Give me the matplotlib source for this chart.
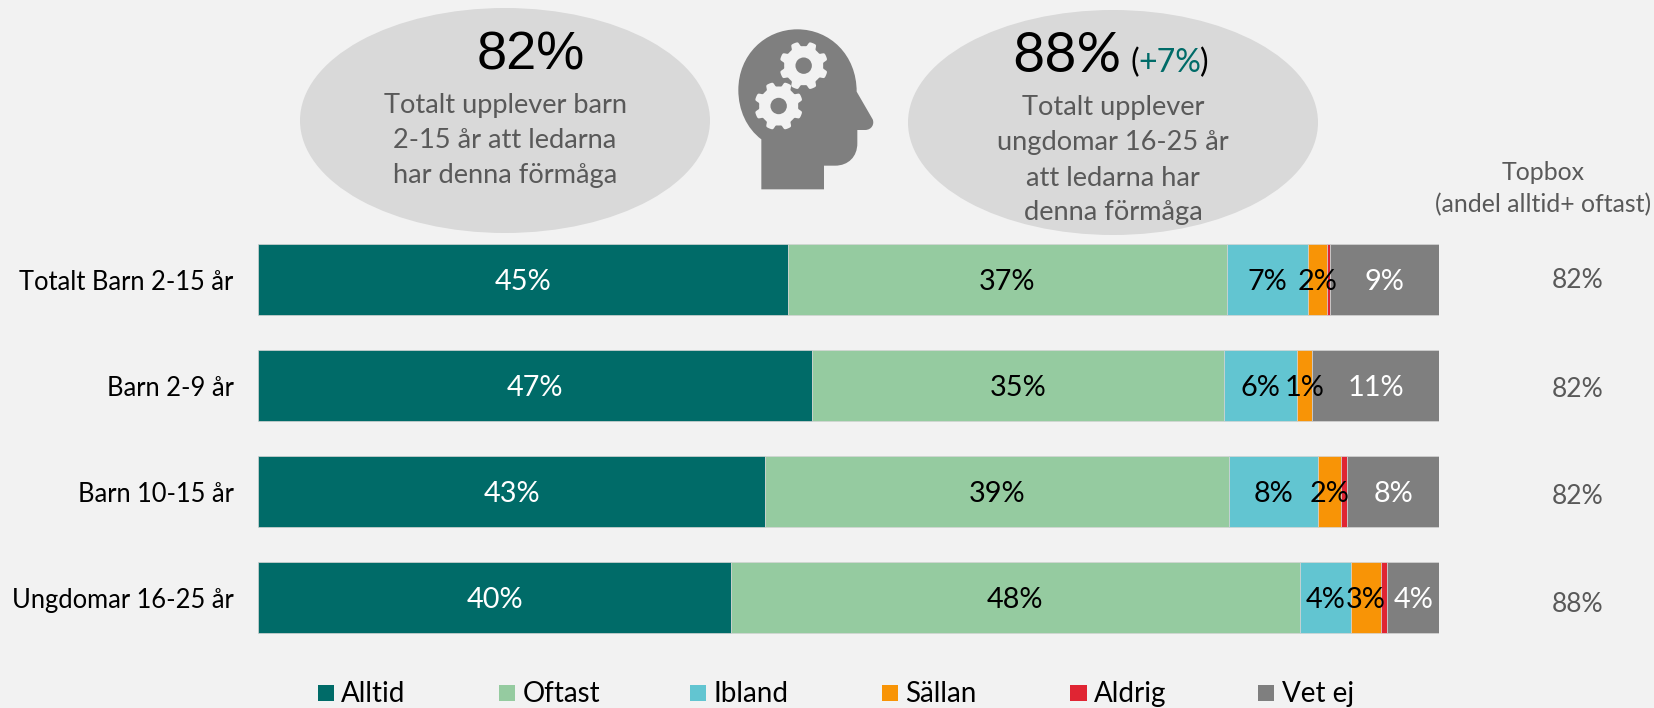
import numpy as np
import matplotlib
matplotlib.use("Agg")
import matplotlib.pyplot as plt
from matplotlib.patches import Ellipse, Rectangle, PathPatch, Circle, Polygon
from matplotlib.path import Path

plt.rcParams['font.family'] = ['Lato', 'DejaVu Sans']

W, H = 1654, 708
categories = ["Totalt Barn 2-15 år", "Barn 2-9 år", "Barn 10-15 år", "Ungdomar 16-25 år"]
series_names = ["Alltid", "Oftast", "Ibland", "Sällan", "Aldrig", "Vet ej"]
alltid = [44.85, 46.9, 42.9, 40.0]
oftast = [37.15, 34.9, 39.3, 48.2]
ibland = [6.85, 6.17, 7.55, 4.3]
sallan = [1.65, 1.27, 1.95, 2.55]
aldrig = [0.24, 0.0, 0.5, 0.55]
vet_ej = [9.26, 10.76, 7.8, 4.4]
topbox = ["82%", "82%", "82%", "88%"]

colors = ["#006b68", "#95cba0", "#62c5d1", "#f89406", "#e02533", "#7f7f7f"]
label_colors = ["white", "black", "black", "black", None, "white"]
BG = "#f2f2f2"
GREY_TXT = "#595959"
SHAPE = "#d9d9d9"
ICON = "#7f7f7f"

fig = plt.figure(figsize=(W / 100, H / 100), dpi=100, facecolor=BG)

# full-figure overlay in pixel coordinates for the decorative shapes
ov = fig.add_axes([0, 0, 1, 1], zorder=0)
ov.set_xlim(0, W)
ov.set_ylim(H, 0)
ov.axis("off")

# chart axes
left, right, top, bottom = 258.4, 1439.3, 226.7, 650.7
ax = fig.add_axes([left / W, 1 - bottom / H, (right - left) / W, (bottom - top) / H], zorder=1)
ax.patch.set_alpha(0)
ax.set_xlim(0, 100)
ax.set_ylim(3.5, -0.5)
for s in ax.spines.values():
    s.set_visible(False)
ax.set_xticks([])
ax.set_yticks(range(len(categories)))
ax.set_yticklabels(categories, fontsize=18.4, color="black")
ax.tick_params(axis="y", length=0, pad=18)

y = np.arange(len(categories))
cum = np.zeros(len(categories))
for name, vals, col, lc in zip(series_names, [alltid, oftast, ibland, sallan, aldrig, vet_ej], colors, label_colors):
    vals = np.array(vals)
    ax.barh(y, vals, left=cum, height=0.67, color=col, edgecolor="#d4d4d4", linewidth=0.5)
    if lc:
        for yi, v, c in zip(y, vals, cum):
            ax.text(c + v / 2, yi, f"{int(round(v))}%", ha="center", va="center_baseline",
                    color=lc, fontsize=20.8)
    cum += vals

for yi, t, dy in zip(y, topbox, [-0.02, 0.015, 0.02, 0.04]):
    ax.text(1.1168, yi + dy, t, transform=ax.get_yaxis_transform(), ha="center", va="center_baseline",
            color=GREY_TXT, fontsize=19)

# ellipses
ov.add_patch(Ellipse((505, 120.5), 410, 225, fc=SHAPE, ec="none"))
ov.add_patch(Ellipse((1113, 122.5), 410, 225, fc=SHAPE, ec="none"))

# big numbers
ov.text(530.7, 70, "82%", ha="center", va="baseline", fontsize=39, color="black", family="Liberation Sans")
ov.text(1012, 72, "88%", ha="left", va="baseline", fontsize=40, color="black")
ov.text(1130, 72, "(", ha="left", va="baseline", fontsize=23, color="black")
ov.text(1138, 72, "+7%", ha="left", va="baseline", fontsize=23, color="#006b68")
ov.text(1200, 72, ")", ha="left", va="baseline", fontsize=23, color="black")

for t, b in zip(["Totalt upplever barn", "2-15 år att ledarna", "har denna förmåga"], [113, 148, 183]):
    ov.text(505, b, t, ha="center", va="baseline", fontsize=19.6, color=GREY_TXT)
for t, b in zip(["Totalt upplever", "ungdomar 16-25 år", "att ledarna har", "denna förmåga"], [115, 150, 186, 220]):
    ov.text(1113, b, t, ha="center", va="baseline", fontsize=19.6, color=GREY_TXT)

ov.text(1543, 180, "Topbox", ha="center", va="baseline", fontsize=17.9, color=GREY_TXT)
ov.text(1543, 212, "(andel alltid+ oftast)", ha="center", va="baseline", fontsize=17.9, color=GREY_TXT)

# head icon (outline traced in zoom coordinates)
def hp(x, yy):
    return (680 + x / 3, yy / 3)

verts = [hp(244, 568), hp(244, 418),
         hp(200, 385), hp(175, 330), hp(175, 270),
         hp(175, 165), hp(255, 88), hp(352, 88),
         hp(450, 88), hp(530, 165), hp(530, 275),
         hp(578, 358),
         hp(584, 372), hp(575, 390), hp(555, 390),
         hp(532, 390), hp(532, 430),
         hp(532, 470), hp(505, 497), hp(465, 497),
         hp(432, 497), hp(432, 568), hp(244, 568)]
codes = [Path.MOVETO, Path.LINETO,
         Path.CURVE4, Path.CURVE4, Path.CURVE4,
         Path.CURVE4, Path.CURVE4, Path.CURVE4,
         Path.CURVE4, Path.CURVE4, Path.CURVE4,
         Path.LINETO,
         Path.CURVE4, Path.CURVE4, Path.CURVE4,
         Path.LINETO, Path.LINETO,
         Path.CURVE4, Path.CURVE4, Path.CURVE4,
         Path.LINETO, Path.LINETO, Path.CLOSEPOLY]
ov.add_patch(PathPatch(Path(verts, codes), fc=ICON, ec="none"))

def gear(cx, cy, rot):
    teeth = 8
    ang = np.linspace(0, 2 * np.pi, teeth * 24, endpoint=False)
    prof = 0.5 * (1 + np.tanh(3.2 * np.cos(teeth * (ang + rot))))
    r = 19.5 + 4.8 * prof
    ov.add_patch(Polygon(np.c_[cx + r * np.cos(ang), cy + r * np.sin(ang)], closed=True, fc=BG, ec="none"))
    ov.add_patch(Circle((cx, cy), 8.2, fc=ICON, ec="none"))

gear(*hp(371, 197), np.pi / 8)
gear(*hp(296, 318), np.pi / 8)

# legend
leg_x = [317.9, 499, 690, 882, 1070, 1258]
leg_w = [16, 16, 16, 16, 17, 16]
for name, col, lx, lw in zip(series_names, colors, leg_x, leg_w):
    ov.add_patch(Rectangle((lx, 685), lw, 16, fc=col, ec="none"))
    ov.text(lx + 23.5, 702, name, ha="left", va="baseline", fontsize=20, color="black")

fig.savefig("out.png", dpi=100, facecolor=BG)
